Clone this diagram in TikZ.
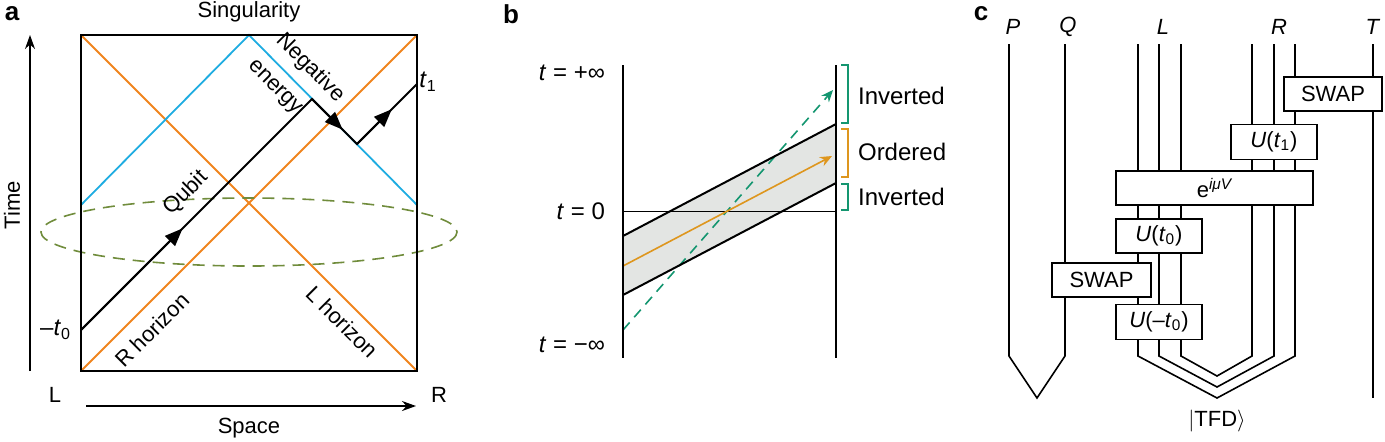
\documentclass[tikz,border=0pt]{standalone}
\usepackage{fontspec}
\setmainfont{Liberation Sans}
\usetikzlibrary{arrows.meta,calc}
\definecolor{hor}{RGB}{240,132,30}
\definecolor{cya}{RGB}{30,172,225}
\definecolor{oli}{RGB}{112,140,60}
\definecolor{bor}{RGB}{222,150,30}
\definecolor{grn}{RGB}{20,150,112}
\definecolor{band}{RGB}{227,229,227}
\begin{document}
\begin{tikzpicture}[x=0.5pt,y=-0.5pt,font=\fontsize{11}{13}\selectfont,
  thick/.style={line width=1pt},
  tri/.style={-{Triangle[length=9pt,width=7pt]}},
  gate/.style={draw,line width=0.8pt,fill=white,inner sep=0pt},
  wire/.style={line width=0.8pt},
  blab/.style={font=\fontsize{12}{13}\selectfont}]
\path[use as bounding box] (0,0) rectangle (1385,441);
% ---------- panel a
\node[font=\fontsize{13}{13}\selectfont\bfseries] (la) at (12,14) {a};
\coordinate (A) at (81,371); \coordinate (B) at (417,371);
\coordinate (C) at (417,35); \coordinate (D) at (81,35);
\draw[hor,line width=0.9pt] (D) -- (B) (A) -- (C);
\coordinate (c1) at (81,205); \coordinate (c2) at (249,35); \coordinate (c3) at (417,205);
\draw[cya,line width=0.9pt] (c1) -- (c2) -- (c3);
\draw[oli,dashed,dash pattern=on 6pt off 4pt,line width=0.8pt] (249,232) ellipse [x radius=208,y radius=34];
\draw[thick] (A) rectangle (C);
\coordinate (q0) at (81,330); \coordinate (q1) at (312,99);
\coordinate (q2) at (357,144); \coordinate (q3) at (417,84);
\draw[thick] (q0) -- (q1) -- (q2) -- (q3);
\draw[thick,tri] (q0) -- ($(q0)!0.44!(q1)$);
\draw[thick,tri] (q1) -- ($(q1)!0.68!(q2)$);
\draw[thick,tri] (q2) -- ($(q2)!0.58!(q3)$);
\node[font=\fontsize{12}{13}\selectfont] (t1) at (428,82) {\textit{t}\textsubscript{1}};
\node[anchor=east,font=\fontsize{12}{13}\selectfont] (mt0) at (78,330) {–\textit{t}\textsubscript{0}};
\node (sing) at (249,12) {Singularity};
\node[rotate=-45] (neg) at (310,68) {Negative};
\node[rotate=-45] (ene) at (274,88) {energy};
\node[rotate=45] (qub) at (186,193) {Qubit};
\node[rotate=45] (rh) at (152,330) {R horizon};
\node[rotate=-45] (lh) at (342,322) {L horizon};
\coordinate (ty0) at (30,371); \coordinate (ty1) at (30,35);
\draw[line width=0.8pt,-{Stealth[length=7pt,width=5pt]}] (ty0) -- (ty1);
\node[rotate=90] (time) at (12,205) {Time};
\coordinate (sx0) at (86,406); \coordinate (sx1) at (416,406);
\draw[line width=0.8pt,-{Stealth[length=7pt,width=5pt]}] (sx0) -- (sx1);
\node (space) at (249,428) {Space};
\node (L) at (55,395) {L};
\node (R) at (439,395) {R};
% ---------- panel b
\node[font=\fontsize{13}{13}\selectfont\bfseries] (lb) at (511,14) {b};
\coordinate (b1) at (623,236); \coordinate (b2) at (836,124);
\coordinate (b3) at (836,183); \coordinate (b4) at (623,295);
\fill[band] (b1) -- (b2) -- (b3) -- (b4) -- cycle;
\draw[line width=0.5pt] (623,211) -- (836,211);
\draw[grn,dashed,dash pattern=on 5pt off 3.5pt,line width=0.8pt,-{Stealth[length=6pt,width=5pt]}] (623,330) -- (833,90);
\draw[bor,line width=0.8pt,-{Stealth[length=6pt,width=5pt]}] (623,266) -- (832,156);
\draw[thick] (b1) -- (b2) (b4) -- (b3);
\draw[thick] (623,65) -- (623,358);
\draw[line width=0.8pt] (836,65) -- (836,358);
\draw[grn,line width=0.8pt] (841,65) -- (848,65) -- (848,123) -- (841,123);
\draw[bor,line width=0.8pt] (841,129) -- (848,129) -- (848,177) -- (841,177);
\draw[grn,line width=0.8pt] (841,184) -- (848,184) -- (848,210) -- (841,210);
\node[anchor=west,blab] (inv1) at (851,96) {Inverted};
\node[anchor=west,blab] (ord) at (851,152) {Ordered};
\node[anchor=west,blab] (inv2) at (851,197) {Inverted};
\node[anchor=east,blab] (tp) at (612,73) {\textit{t} = +∞};
\node[anchor=east,blab] (tz) at (612,211) {\textit{t} = 0};
\node[anchor=east,blab] (tm) at (612,345) {\textit{t} = −∞};
% ---------- panel c
\node[font=\fontsize{13}{13}\selectfont\bfseries] (lc) at (981,14) {c};
\node (P) at (1013,27) {\textit{P}};
\node (Q) at (1068,27) {\textit{Q}};
\node (Lw) at (1163,27) {\textit{L}};
\node (Rw) at (1279,27) {\textit{R}};
\node (T) at (1373,27) {\textit{T}};
\draw[wire] (1009,44) -- (1009,356) -- (1037,398) -- (1065,356) -- (1065,44);
\draw[wire] (1138,44) -- (1138,356) -- (1217,398) -- (1295,356) -- (1295,44);
\draw[wire] (1159,44) -- (1159,356) -- (1217,387) -- (1274,356) -- (1274,44);
\draw[wire] (1181,44) -- (1181,356) -- (1217,376) -- (1252,356) -- (1252,44);
\draw[wire] (1373,44) -- (1373,398);
\node[gate,minimum width=98pt*0.5,minimum height=34pt*0.5] (sw1) at (1333,94) {SWAP};
\node[gate,minimum width=86pt*0.5,minimum height=35pt*0.5] (ut1) at (1274,142) {\textit{U}(\textit{t}\textsubscript{1})};
\node[gate,minimum width=197pt*0.5,minimum height=34pt*0.5] (eV) at (1214.5,188) {e\textsuperscript{\itshape iμV}};
\node[gate,minimum width=86pt*0.5,minimum height=34pt*0.5] (ut0) at (1159,236) {\textit{U}(\textit{t}\textsubscript{0})};
\node[gate,minimum width=99pt*0.5,minimum height=34pt*0.5] (sw2) at (1101.5,280) {SWAP};
\node[gate,minimum width=86pt*0.5,minimum height=35pt*0.5] (umt0) at (1159,322) {\textit{U}(–\textit{t}\textsubscript{0})};
\node (tfd) at (1217,421) {$|$TFD$\rangle$};
\end{tikzpicture}
\end{document}
